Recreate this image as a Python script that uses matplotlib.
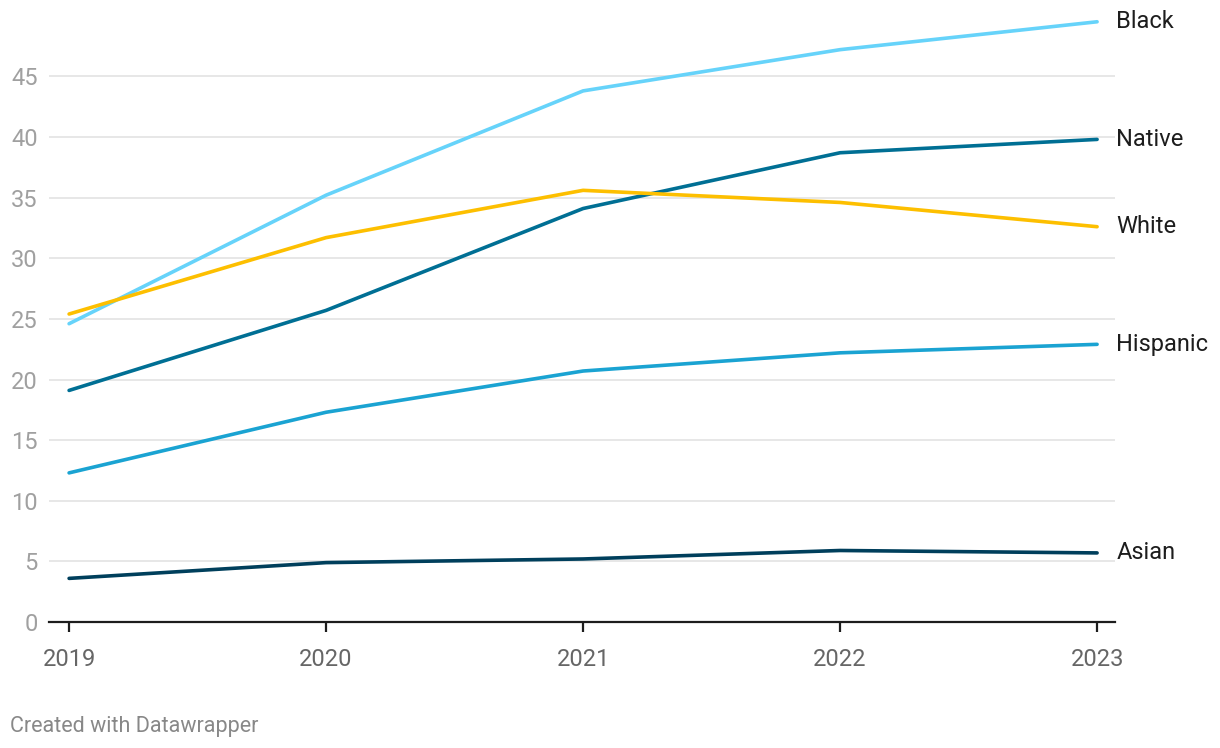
import matplotlib.pyplot as plt
import numpy as np

plt.rcParams['font.family'] = ['Roboto', 'DejaVu Sans']

years = [2019, 2020, 2021, 2022, 2023]
black = [24.6, 35.2, 43.8, 47.2, 49.5]
native = [19.1, 25.7, 34.1, 38.7, 39.8]
white = [25.4, 31.7, 35.6, 34.6, 32.6]
hispanic = [12.3, 17.3, 20.7, 22.2, 22.9]
asian = [3.6, 4.9, 5.2, 5.9, 5.7]

series = [
    ('Black', black, '#66d3fa'),
    ('Native', native, '#006f94'),
    ('White', white, '#fdbf00'),
    ('Hispanic', hispanic, '#1aa3d2'),
    ('Asian', asian, '#003f5c'),
]

fig = plt.figure(figsize=(12.2, 7.48), dpi=100)
ax = fig.add_axes([0.0402, 0.1684, 0.8738, 0.8106])

for name, vals, col in series:
    ax.plot(years, vals, color=col, lw=2.6, solid_capstyle='round', zorder=3)
    ax.text(2023.075, vals[-1], name, fontsize=17, color='#1d1d1d',
            va='center', ha='left', clip_on=False)

ax.set_xlim(2018.922, 2023.07)
ax.set_ylim(0, 50)
ax.set_yticks(np.arange(0, 50, 5))
ax.set_xticks(years)
ax.grid(axis='y', color='#e3e3e3', lw=1.2, zorder=0)
for s in ['top', 'right', 'left']:
    ax.spines[s].set_visible(False)
ax.spines['bottom'].set_color('#1d1d1d')
ax.spines['bottom'].set_linewidth(1.6)
ax.spines['bottom'].set_zorder(4)
ax.tick_params(axis='y', length=0, labelsize=17, labelcolor='#a0a0a0', pad=8)
ax.tick_params(axis='x', length=7, width=1.6, color='#1d1d1d', labelsize=17,
               labelcolor='#666666', pad=12)

fig.text(0.008, 0.022, 'Created with Datawrapper', fontsize=15.5, color='#888888')

fig.savefig('out.png', dpi=100)
